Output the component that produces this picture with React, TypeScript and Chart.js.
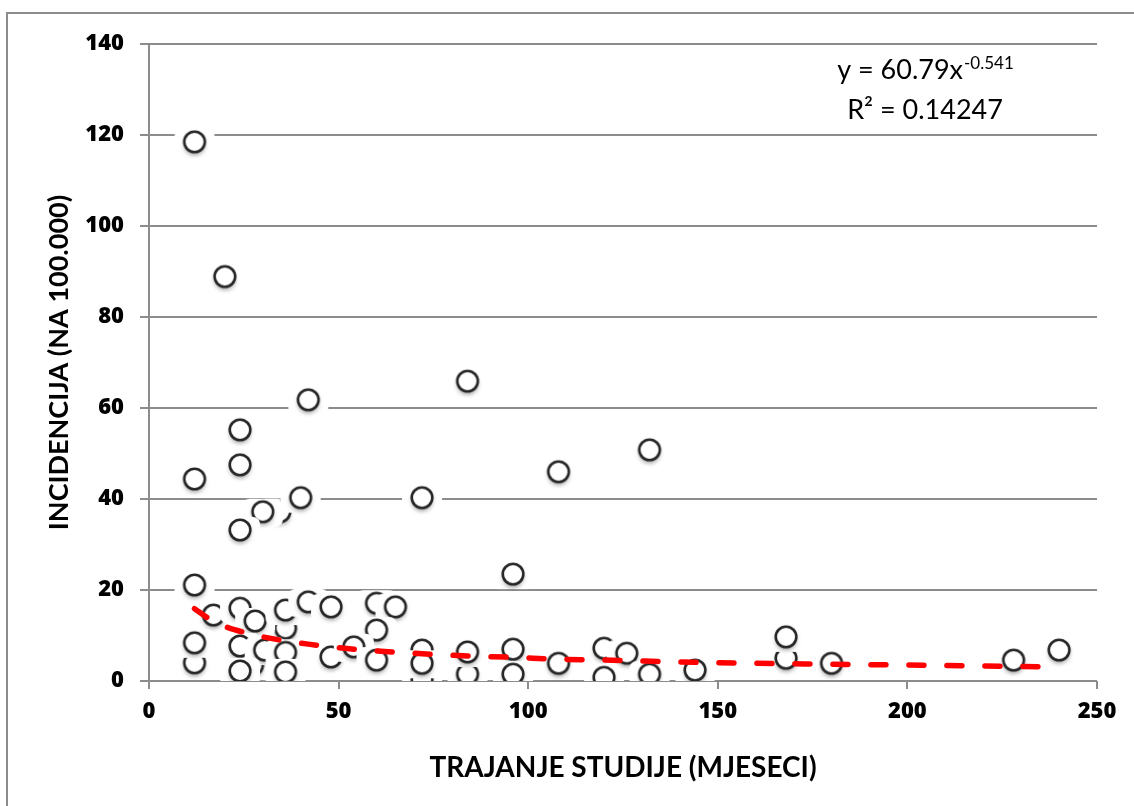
import React, { useEffect, useRef } from "react";
import { Chart, registerables } from "chart.js";

Chart.register(...registerables);

// ---- data ----
const studyMonths = [
  12, 36, 34.5, 72, 72, 84, 96, 27.3, 168,
  12, 20, 84, 42, 24, 24, 12, 40, 72, 30, 24, 132, 108, 96,
  12, 17, 24, 28, 36, 42, 48, 60, 65, 60,
  12, 24, 30.5, 36, 24, 36, 48, 54, 60, 72, 84, 96, 108,
  120, 120, 126, 132, 144, 168, 180, 228, 240,
];
const incidence = [
  4.0, 11.6, 37.2, 6.8, 0.3, 1.5, 7.0, 3.5, 5.0,
  118.5, 88.9, 65.9, 61.8, 55.2, 47.5, 44.4, 40.3, 40.3, 37.2, 33.2, 50.8, 46.0, 23.5,
  21.1, 14.5, 16.0, 13.2, 15.6, 17.4, 16.3, 17.1, 16.3, 11.2,
  8.4, 7.7, 6.8, 6.3, 2.2, 2.0, 5.3, 7.5, 4.6, 3.9, 6.4, 1.5, 3.9,
  7.2, 0.8, 6.1, 1.5, 2.4, 9.7, 3.9, 4.6, 6.8,
];
const trendMonths = [12, 16, 20, 25, 30, 36, 42, 50, 60, 72, 84, 96, 108, 120, 144, 168, 200, 240];
const trendIncidence = [15.9, 13.6, 12.0, 10.7, 9.7, 8.8, 8.1, 7.3, 6.6, 6.0, 5.5, 5.2, 4.8, 4.6, 4.1, 3.8, 3.5, 3.1];
const xTicks = [0, 50, 100, 150, 200, 250];
const yTicks = [0, 20, 40, 60, 80, 100, 120, 140];
const xTitle = "TRAJANJE STUDIJE (MJESECI)";
const yTitle = "INCIDENCIJA (NA 100.000)";
const equationMain = "y = 60.79x";
const equationExp = "-0.541";
const rSquared = "R² = 0.14247";

const GRID = "#8c8c8c";
const FONT = "Lato";
const TICK_FONT = "'Open Sans'";

function makeMarker(): HTMLCanvasElement {
  const c = document.createElement("canvas");
  c.width = 48;
  c.height = 64;
  const ctx = c.getContext("2d")!;
  const cx = 24;
  const cy = 32;
  // white halo (hides lines / earlier markers)
  ctx.fillStyle = "#ffffff";
  ctx.beginPath();
  (ctx as any).roundRect(cx - 20, cy - 13, 40, 28, 7);
  ctx.fill();
  // soft shadow
  ctx.save();
  ctx.shadowColor = "rgba(0,0,0,0.35)";
  ctx.shadowBlur = 4;
  ctx.shadowOffsetY = 3;
  ctx.beginPath();
  ctx.arc(cx, cy, 10.5, 0, Math.PI * 2);
  ctx.fillStyle = "#ffffff";
  ctx.fill();
  ctx.restore();
  ctx.beginPath();
  ctx.arc(cx, cy, 10.3, 0, Math.PI * 2);
  ctx.lineWidth = 2.6;
  ctx.strokeStyle = "#262626";
  ctx.stroke();
  return c;
}

const equationPlugin = {
  id: "equation",
  afterDraw(chart: any) {
    const ctx = chart.ctx as CanvasRenderingContext2D;
    ctx.save();
    ctx.fillStyle = "#000";
    ctx.textBaseline = "alphabetic";
    ctx.textAlign = "left";
    const centerX = 925;
    ctx.font = `27px ${FONT}`;
    const wMain = ctx.measureText(equationMain).width;
    ctx.font = `17px ${FONT}`;
    const wExp = ctx.measureText(equationExp).width;
    const x = centerX - (wMain + wExp) / 2;
    ctx.font = `27px ${FONT}`;
    ctx.fillText(equationMain, x, 79);
    ctx.font = `17px ${FONT}`;
    ctx.fillText(equationExp, x + wMain + 1, 69);
    ctx.font = `27px ${FONT}`;
    const wR = ctx.measureText(rSquared).width;
    ctx.fillText(rSquared, centerX - wR / 2, 119);
    ctx.restore();
  },
};

export default function App() {
  const ref = useRef<HTMLCanvasElement | null>(null);
  useEffect(() => {
    if (!ref.current) return;
    const marker = makeMarker();
    const chart = new Chart(ref.current, {
      type: "scatter",
      data: {
        datasets: [
          {
            label: "trend",
            data: trendMonths.map((m, i) => ({ x: m, y: trendIncidence[i] })),
            showLine: true,
            borderColor: "#ff0000",
            borderWidth: 5.5,
            borderDash: [15, 23],
            borderCapStyle: "round",
            cubicInterpolationMode: "monotone",
            pointRadius: 0,
            order: 0,
          } as any,
          {
            label: "studije",
            data: studyMonths.map((m, i) => ({ x: m, y: incidence[i] })),
            pointStyle: marker as any,
            pointRadius: 10,
            order: 1,
          },
        ],
      },
      options: {
        responsive: false,
        animation: false,
        layout: { padding: { left: 0, right: 37, top: 44, bottom: 0 } },
        plugins: { legend: { display: false }, tooltip: { enabled: false } },
        scales: {
          x: {
            type: "linear",
            min: 0,
            max: 250,
            afterBuildTicks: (s: any) => {
              s.ticks = xTicks.map((v) => ({ value: v }));
            },
            afterFit: (s: any) => {
              s.height = 125;
            },
            grid: { drawOnChartArea: false, drawTicks: true, tickLength: 8, color: GRID, lineWidth: 2 },
            border: { display: false },
            ticks: {
              font: { family: TICK_FONT, size: 22, weight: "800" },
              color: "#000",
              padding: 10,
              maxRotation: 0,
            },
            title: {
              display: true,
              text: xTitle,
              color: "#000",
              font: { family: FONT, size: 28, weight: "bold" },
              padding: { top: 0, bottom: 21 },
            },
          },
          y: {
            type: "linear",
            min: 0,
            max: 140,
            afterBuildTicks: (s: any) => {
              s.ticks = yTicks.map((v) => ({ value: v }));
            },
            afterFit: (s: any) => {
              s.width = 149;
            },
            grid: { color: GRID, lineWidth: 2, tickLength: 9 },
            border: { display: true, color: GRID, width: 2 },
            ticks: {
              font: { family: TICK_FONT, size: 22, weight: "800" },
              color: "#000",
              padding: 16,
            },
            title: {
              display: true,
              text: yTitle,
              color: "#000",
              font: { family: FONT, size: 27, weight: "bold" },
              padding: { top: 43, bottom: 0 },
            },
          },
        },
      },
      plugins: [equationPlugin],
    });
    return () => chart.destroy();
  }, []);

  return (
    <div
      style={{
        position: "absolute",
        left: 0,
        top: 0,
        width: 1134,
        height: 806,
        background: "#fff",
        overflow: "hidden",
      }}
    >
      <div
        style={{
          position: "absolute",
          left: 6,
          top: 12,
          width: 1300,
          height: 1000,
          border: "2px solid #8c8c8c",
          boxSizing: "border-box",
        }}
      />
      <canvas
        ref={ref}
        width={1134}
        height={806}
        style={{ position: "absolute", left: 0, top: 0, width: 1134, height: 806 }}
      />
    </div>
  );
}
